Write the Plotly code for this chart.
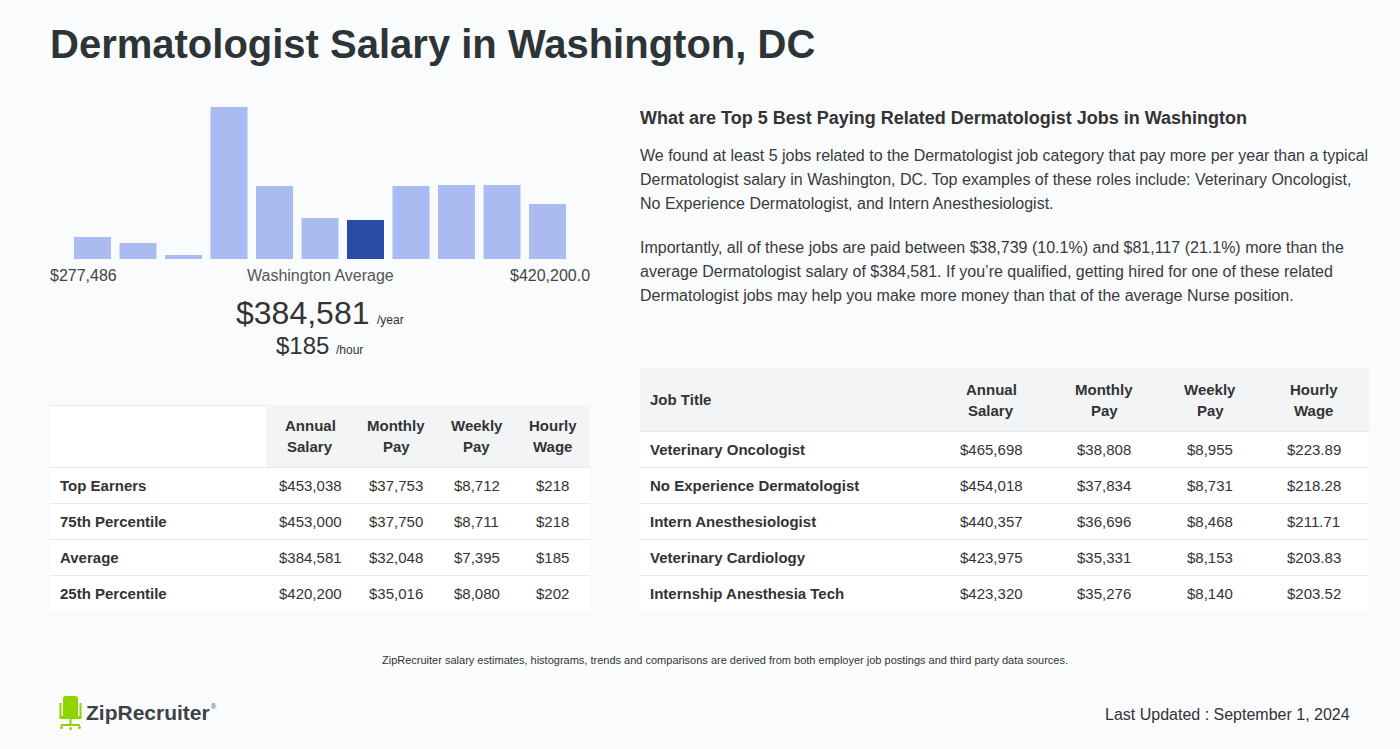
import plotly.graph_objects as go

W, H = 1400, 749
FONT = "Liberation Sans, Arial, sans-serif"
BG = "#fafbfd"
TXT = "#333333"
SEP = "#e8eaed"
HEAD_FILL = "#f3f4f6"

# ---------------- data ----------------
hist_counts = [22, 16, 4, 152, 73, 41, 39, 73, 74, 74, 55]
hist_highlight = 6
hist_min_label = "$277,486"
hist_max_label = "$420,200.0"
avg_year = "$384,581"
avg_hour = "$185"

pct_labels = ["Top Earners", "75th Percentile", "Average", "25th Percentile"]
pct_annual = ["$453,038", "$453,000", "$384,581", "$420,200"]
pct_monthly = ["$37,753", "$37,750", "$32,048", "$35,016"]
pct_weekly = ["$8,712", "$8,711", "$7,395", "$8,080"]
pct_hourly = ["$218", "$218", "$185", "$202"]

col_headers = [("Annual", "Salary"), ("Monthly", "Pay"), ("Weekly", "Pay"), ("Hourly", "Wage")]

jobs = ["Veterinary Oncologist", "No Experience Dermatologist", "Intern Anesthesiologist",
        "Veterinary Cardiology", "Internship Anesthesia Tech"]
job_annual = ["$465,698", "$454,018", "$440,357", "$423,975", "$423,320"]
job_monthly = ["$38,808", "$37,834", "$36,696", "$35,331", "$35,276"]
job_weekly = ["$8,955", "$8,731", "$8,468", "$8,153", "$8,140"]
job_hourly = ["$223.89", "$218.28", "$211.71", "$203.83", "$203.52"]

title = "Dermatologist Salary in Washington, DC"
subhead = "What are Top 5 Best Paying Related Dermatologist Jobs in Washington"
para1 = ["We found at least 5 jobs related to the Dermatologist job category that pay more per year than a typical",
         "Dermatologist salary in Washington, DC. Top examples of these roles include: Veterinary Oncologist,",
         "No Experience Dermatologist, and Intern Anesthesiologist."]
para2 = ["Importantly, all of these jobs are paid between $38,739 (10.1%) and $81,117 (21.1%) more than the",
         "average Dermatologist salary of $384,581. If you\u2019re qualified, getting hired for one of these related",
         "Dermatologist jobs may help you make more money than that of the average Nurse position."]
footnote = "ZipRecruiter salary estimates, histograms, trends and comparisons are derived from both employer job postings and third party data sources."
updated = "Last Updated : September 1, 2024"

# ---------------- figure ----------------
fig = go.Figure()

bar_colors = ["#2a4ba3" if i == hist_highlight else "#a9bbf1" for i in range(len(hist_counts))]
fig.add_trace(go.Bar(x=list(range(len(hist_counts))), y=hist_counts,
                     marker=dict(color=bar_colors, line=dict(width=0)),
                     hoverinfo="skip", showlegend=False, xaxis="x", yaxis="y"))

ann = []
shapes = []


def text(x, y, s, size, color=TXT, xanchor="left", bold=False, yanchor="middle"):
    ann.append(dict(x=x, y=y, xref="x2", yref="y2", text=("<b>%s</b>" % s) if bold else s,
                    showarrow=False, xanchor=xanchor, yanchor=yanchor, borderpad=0, borderwidth=0,
                    font=dict(family=FONT, size=size, color=color)))


def rect(x0, y0, x1, y1, color):
    shapes.append(dict(type="rect", xref="x2", yref="y2", x0=x0, y0=y0, x1=x1, y1=y1,
                       fillcolor=color, line=dict(width=0), layer="below"))


def hline(x0, x1, y, color=SEP):
    shapes.append(dict(type="line", xref="x2", yref="y2", x0=x0, y0=y, x1=x1, y1=y,
                       line=dict(color=color, width=1), layer="below"))


def draw_table(edges, top, head_h, row_h, label_col, value_cols, label_header, first_head_fill):
    x_left, x_right = edges[0], edges[-1]
    head_bot = top + head_h
    nrows = len(label_col)
    # header
    rect(x_left, top, edges[1], head_bot, first_head_fill)
    rect(edges[1], top, x_right, head_bot, HEAD_FILL)
    if first_head_fill == "#ffffff":
        hline(x_left, edges[1], top + 0.5)
    hc = top + head_h / 2
    if label_header:
        text(x_left + 10, hc, label_header, 15, TXT, bold=True)
    for j, (l1, l2) in enumerate(col_headers):
        cx = (edges[j + 1] + edges[j + 2]) / 2
        text(cx, hc - 10.5, l1, 15, TXT, xanchor="center", bold=True)
        text(cx, hc + 10.5, l2, 15, TXT, xanchor="center", bold=True)
    # body
    rect(x_left, head_bot, x_right, head_bot + nrows * row_h, "#ffffff")
    for i in range(nrows):
        y0 = head_bot + i * row_h
        hline(x_left, x_right, y0 + 0.5)
        cy = y0 + row_h / 2
        text(x_left + 10, cy, label_col[i], 15, TXT, bold=True)
        for j, col in enumerate(value_cols):
            cx = (edges[j + 1] + edges[j + 2]) / 2
            text(cx, cy, col[i], 15, TXT, xanchor="center")


draw_table([50, 266, 354, 438, 515, 590], 405, 62, 36, pct_labels,
           [pct_annual, pct_monthly, pct_weekly, pct_hourly], "", "#ffffff")
draw_table([640, 936, 1046, 1162, 1258, 1369], 368, 63, 36, jobs,
           [job_annual, job_monthly, job_weekly, job_hourly], "Job Title", HEAD_FILL)

text(50, 44, title, 40, "#2d3436", bold=True)
text(640, 118, subhead, 18, TXT, bold=True)
for i, s in enumerate(para1):
    text(640, 155 + 24 * i, s, 16, "#3a3a3a")
for i, s in enumerate(para2):
    text(640, 247 + 24 * i, s, 16, "#3a3a3a")

text(50, 275, hist_min_label, 16, "#444444")
text(320, 275, "Washington Average", 16, "#555555", xanchor="center")
text(590, 275, hist_max_label, 16, "#444444", xanchor="right")
text(369, 313, avg_year, 32, "#333333", xanchor="right")
text(377, 320, "/year", 12, "#333333")
text(329, 345, avg_hour, 24, "#333333", xanchor="right")
text(336, 350, "/hour", 12, "#333333")

text(725, 660, footnote, 11, "#333333", xanchor="center")
text(1350, 714, updated, 16, "#333333", xanchor="right")
text(86, 712, "ZipRecruiter", 21, "#3d4246", bold=True)
text(211, 706, "\u00ae", 7, "#3d4246")

# logo chair
G = "#8fd400"
shapes.append(dict(type="path", xref="x2", yref="y2", layer="above",
                   path="M 63 699 Q 63 696 66 696 L 75 696 Q 78 696 78 699 L 78 716 L 63 716 Z",
                   fillcolor=G, line=dict(width=0)))
for x0, y0, x1, y1 in [(59.5, 703, 61.5, 718), (79.5, 703, 81.5, 718), (59.5, 716, 81.5, 719),
                       (69.5, 719, 71.5, 725), (61, 724, 80, 726)]:
    shapes.append(dict(type="rect", xref="x2", yref="y2", x0=x0, y0=y0, x1=x1, y1=y1,
                       fillcolor=G, line=dict(width=0)))
for cx, cy in [(61.5, 727.5), (70.5, 728.5), (79.5, 727.5)]:
    shapes.append(dict(type="circle", xref="x2", yref="y2", x0=cx - 1.5, y0=cy - 1.5, x1=cx + 1.5, y1=cy + 1.5,
                       fillcolor=G, line=dict(width=0)))


def px_x(p):
    return p / W


def px_y(p):
    return 1 - p / H


n = len(hist_counts)
fig.update_layout(
    width=W, height=H, margin=dict(l=0, r=0, t=0, b=0),
    paper_bgcolor=BG, plot_bgcolor="rgba(0,0,0,0)",
    bargap=0.187, showlegend=False,
    xaxis=dict(domain=[px_x(69.75), px_x(570.25)], range=[-0.5, n - 0.5], visible=False, fixedrange=True),
    yaxis=dict(domain=[px_y(259), px_y(107)], range=[0, max(hist_counts)], visible=False, fixedrange=True),
    xaxis2=dict(domain=[0, 1], range=[0, W], visible=False, anchor="y2", fixedrange=True),
    yaxis2=dict(domain=[0, 1], range=[H, 0], visible=False, anchor="x2", fixedrange=True),
    annotations=ann, shapes=shapes,
    font=dict(family=FONT),
)
fig.write_html("out.html", config={"displayModeBar": False},
               post_script="document.body.style.margin='0';document.body.style.overflow='hidden';")
